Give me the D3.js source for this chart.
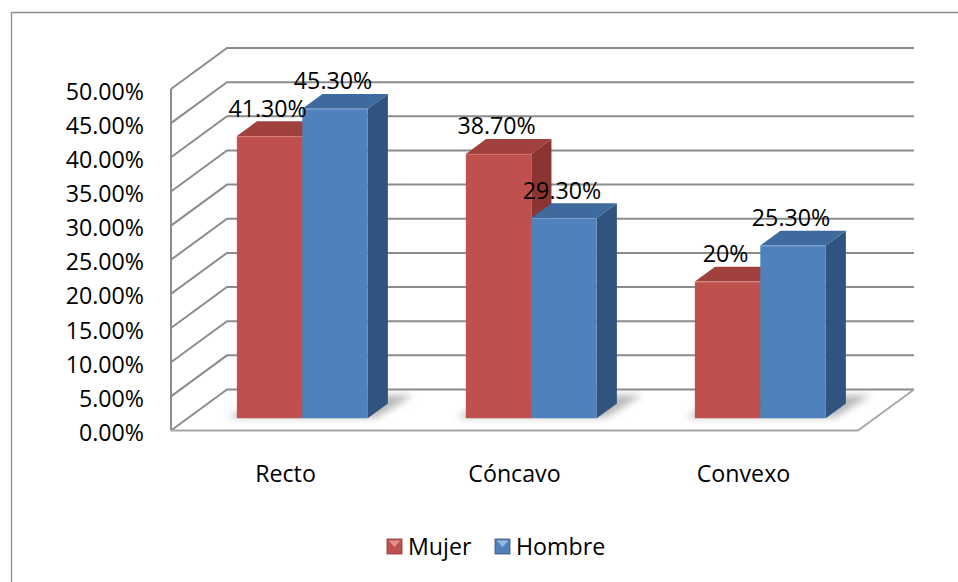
<!DOCTYPE html>
<html>
<head>
<meta charset="utf-8">
<script src="https://cdn.jsdelivr.net/npm/d3@7"></script>
<style>
  html, body { margin: 0; padding: 0; background: #ffffff; }
  svg { display: block; }
  text { font-family: "Open Sans", "Noto Sans", sans-serif; fill: #000; }
</style>
</head>
<body>
<svg id="chart" width="958" height="582"></svg>
<script>
// ---- data ----
const categories = ["Recto", "Cóncavo", "Convexo"];
const seriesNames = ["Mujer", "Hombre"];
const mujerValues = [0.413, 0.387, 0.20];
const hombreValues = [0.453, 0.293, 0.253];
const mujerLabels = ["41.30%", "38.70%", "20%"];
const hombreLabels = ["45.30%", "29.30%", "25.30%"];
const yTickValues = [0, 0.05, 0.10, 0.15, 0.20, 0.25, 0.30, 0.35, 0.40, 0.45, 0.50];

// ---- styles ----
const colors = {
  Mujer:  { front: "#C0504D", top: "#A0413E", side: "#8A3532", light: "#E9A09D" },
  Hombre: { front: "#4F81BD", top: "#3F6A9E", side: "#30547F", light: "#A9C6EC" }
};
const gridColor = "#8c8c8c";
const fontSize = 23.2;

const svg = d3.select("#chart");
const defs = svg.append("defs");
defs.append("filter").attr("id", "soft")
  .attr("x", "-30%").attr("y", "-60%").attr("width", "160%").attr("height", "220%")
  .append("feGaussianBlur").attr("stdDeviation", 3.5);

// outer chart frame (left and top edges are within view)
svg.append("path")
  .attr("d", "M11.5,590 L11.5,12.5 L970,12.5")
  .attr("fill", "none").attr("stroke", "#8c8c8c").attr("stroke-width", 1.3);

// ---- 3D frame geometry (oblique projection) ----
const plotLeft = 171, plotRight = 858;
const DX = 56, DY = 41;              // depth offset of the back wall
const depthFront = 0.30, depthBack = 0.66; // bar depth range as fraction of floor depth

const x = d3.scaleBand().domain(categories).range([plotLeft, plotRight]).paddingInner(0).paddingOuter(0);
const y = d3.scaleLinear().domain([0, 0.5]).range([430.5, 89]);
const barW = x.bandwidth() / 3.5;
const xs = d3.scaleBand().domain(seriesNames)
  .range([barW * 0.75, x.bandwidth() - barW * 0.75]).paddingInner(0).paddingOuter(0);

// project a front-plane point (px, py) to depth fraction f
const P = (px, py, f) => [px + f * DX, py - f * DY];
const pts = arr => arr.map(p => p.join(",")).join(" ");

// ---- walls and gridlines ----
const grid = svg.append("g").attr("fill", "none").attr("stroke", gridColor).attr("stroke-width", 2);
yTickValues.forEach(v => {
  const yv = y(v);
  const a = P(plotLeft, yv, 0), b = P(plotLeft, yv, 1), c = P(plotRight, yv, 1);
  grid.append("polyline").attr("points", pts([a, b, c]));
});
// value axis line
grid.append("line").attr("x1", plotLeft).attr("x2", plotLeft).attr("y1", y(0.5)).attr("y2", y(0));
// floor front and right edges
{
  const f0 = P(plotLeft, y(0), 0), f1 = P(plotRight, y(0), 0), f2 = P(plotRight, y(0), 1);
  grid.append("polyline").attr("points", pts([f0, f1, f2])).attr("stroke", "#a6a6a6").attr("stroke-width", 1.8);
}

// ---- y tick labels ----
svg.append("g").selectAll("text").data(yTickValues).join("text")
  .attr("x", 144).attr("y", d => y(d) + 10.5)
  .attr("text-anchor", "end").attr("font-size", fontSize)
  .text(d3.format(".2%"));

// ---- bars ----
const rows = categories.map((c, i) => ({ cat: c, values: [
  { s: "Mujer", v: mujerValues[i], label: mujerLabels[i] },
  { s: "Hombre", v: hombreValues[i], label: hombreLabels[i] }
]}));

// soft floor shadows under each group
const shadowG = svg.append("g").attr("filter", "url(#soft)");
rows.forEach(r => {
  const gx0 = x(r.cat) + xs("Mujer") - 10;
  const gx1 = x(r.cat) + xs("Hombre") + barW + 8;
  const b = y(0);
  const q = [P(gx0, b, depthFront + 0.02), P(gx1, b, depthFront + 0.02),
             P(gx1 + 6, b, depthBack + 0.2), P(gx0 + 6, b, depthBack + 0.2)];
  shadowG.append("polygon").attr("points", pts(q)).attr("fill", "#8a8a8a").attr("opacity", 0.6);
});

const barsG = svg.append("g");
rows.forEach(r => {
  r.values.forEach(d => {
    const x0 = x(r.cat) + xs(d.s), x1 = x0 + barW;
    const yb = y(0), yt = y(d.v);
    const c = colors[d.s];
    const g = barsG.append("g");
    // right side face
    g.append("polygon").attr("fill", c.side).attr("points", pts([
      P(x1, yb, depthFront), P(x1, yb, depthBack), P(x1, yt, depthBack), P(x1, yt, depthFront)]));
    // top face
    g.append("polygon").attr("fill", c.top).attr("points", pts([
      P(x0, yt, depthFront), P(x1, yt, depthFront), P(x1, yt, depthBack), P(x0, yt, depthBack)]));
    // front face
    const fl = P(x0, yt, depthFront), fr = P(x1, yb, depthFront);
    g.append("rect").attr("fill", c.front)
      .attr("x", fl[0]).attr("y", fl[1]).attr("width", fr[0] - fl[0]).attr("height", fr[1] - fl[1]);
    // light bevel along the front top edge
    g.append("line").attr("stroke", c.light).attr("stroke-opacity", 0.45).attr("stroke-width", 1)
      .attr("x1", fl[0]).attr("x2", fr[0]).attr("y1", fl[1] + 0.5).attr("y2", fl[1] + 0.5);
  });
});

// ---- data labels ----
const labelsG = svg.append("g");
rows.forEach(r => {
  r.values.forEach(d => {
    const cx = x(r.cat) + xs(d.s) + barW / 2;
    const top = P(cx, y(d.v), depthFront);
    labelsG.append("text")
      .attr("x", top[0] - 2).attr("y", top[1] - 19.5)
      .attr("text-anchor", "middle").attr("font-size", fontSize)
      .text(d.label);
  });
});

// ---- category labels ----
svg.append("g").selectAll("text").data(categories).join("text")
  .attr("x", d => x(d) + x.bandwidth() / 2).attr("y", 482)
  .attr("text-anchor", "middle").attr("font-size", fontSize)
  .text(d => d);

// ---- legend ----
const legend = svg.append("g");
const legendItems = [
  { s: "Mujer", x: 387 },
  { s: "Hombre", x: 495 }
];
legendItems.forEach(it => {
  const c = colors[it.s];
  const g = legend.append("g").attr("transform", `translate(${it.x},539)`);
  g.append("rect").attr("width", 15).attr("height", 15).attr("fill", c.front)
    .attr("stroke", c.side).attr("stroke-width", 0.8);
  g.append("path").attr("d", "M1.5,1.5 L13.5,1.5 L7.5,8 Z").attr("fill", c.light).attr("opacity", 0.8);
  g.append("text").attr("x", 21).attr("y", 16).attr("font-size", fontSize).text(it.s);
});
</script>
</body>
</html>
